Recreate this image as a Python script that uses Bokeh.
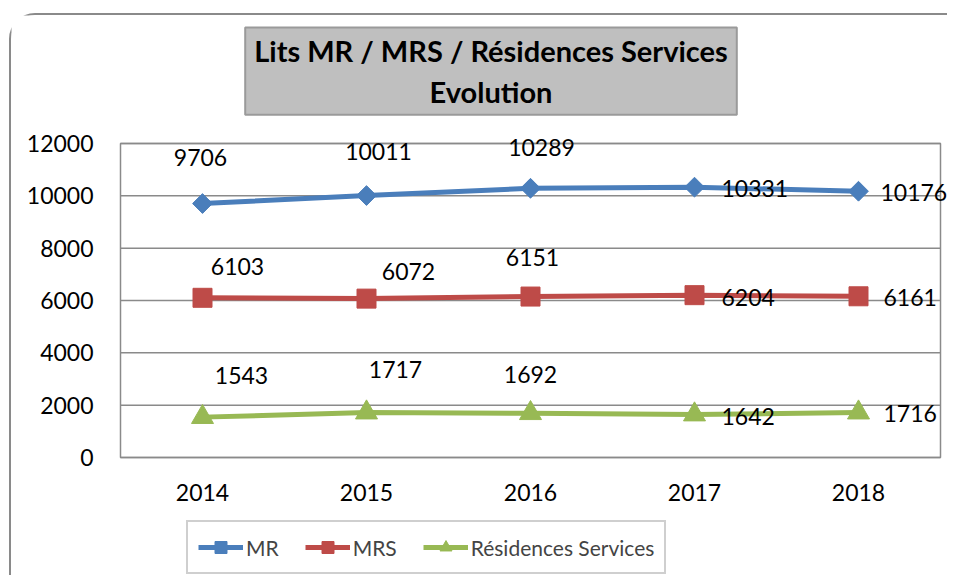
import math
from bokeh.plotting import figure
from bokeh.models import ColumnDataSource, LabelSet, Label, Legend, LegendItem, Range1d
from bokeh.embed import file_html
from bokeh.resources import INLINE
from bokeh.core.properties import value

# ---- data ----
years = [2014, 2015, 2016, 2017, 2018]
mr = [9706, 10011, 10289, 10331, 10176]
mrs = [6103, 6072, 6151, 6204, 6161]
rs = [1543, 1717, 1692, 1642, 1716]
y_ticks = [0, 2000, 4000, 6000, 8000, 10000, 12000]
series_names = ["MR", "MRS", "Résidences Services"]
title_text = "Lits MR / MRS / Résidences Services\nEvolution"

# ---- label placement (screen px offsets; style only) ----
mr_dx = [-2, 12, 11, 27, 22]
mr_dy = [46, 44, 41, -1, -1]
mrs_dx = [35, 42, 2, 27, 25]
mrs_dy = [31, 27, 39, -2, -1]
rs_dx = [39, 29, 0, 27, 25]
rs_dy = [42, 43, 39, -2, -1]

FONT = "Lato"
colors = ["#4A7EBB", "#BE4B48", "#98B954"]
GRID = "#8A8A8A"

# ---- layout (canvas px) ----
W, H = 938, 562
PLOT_L, PLOT_R, PLOT_T, PLOT_B = 109, 929, 128, 442
X0, X1 = years[0] - 0.5, years[-1] + 0.5
Y0, Y1 = y_ticks[0], y_ticks[-1]
xs = (X1 - X0) / (PLOT_R - PLOT_L)
ys = (Y1 - Y0) / (PLOT_B - PLOT_T)

p = figure(width=W, height=H, output_backend="svg", toolbar_location=None,
           x_range=Range1d(X0 - PLOT_L * xs, X1 + (W - PLOT_R) * xs),
           y_range=Range1d(Y0 - (H - PLOT_B) * ys, Y1 + PLOT_T * ys),
           x_axis_location=None, y_axis_location=None,
           min_border=0)
p.styles = {"margin-left": "9px", "margin-top": "13px",
            "border-top": "2px solid #8A8A8A", "border-left": "2px solid #8A8A8A",
            "border-top-left-radius": "26px"}

p.outline_line_color = None
p.grid.visible = False

# plot-area gridlines and border
p.segment(x0=[X0] * len(y_ticks), x1=[X1] * len(y_ticks), y0=y_ticks, y1=y_ticks,
          line_color=GRID, line_width=1.5)
p.quad(left=[X0], right=[X1], bottom=[Y0], top=[Y1], fill_color=None,
       line_color=GRID, line_width=1.5)

# tick labels
ytl = ColumnDataSource(dict(x=[X0] * len(y_ticks), y=y_ticks, t=[str(v) for v in y_ticks]))
p.add_layout(LabelSet(x="x", y="y", text="t", source=ytl, x_offset=-27,
                      text_align="right", text_baseline="middle",
                      text_font=value(FONT), text_font_size="23px", text_color="#000000"))
xtl = ColumnDataSource(dict(x=years, y=[Y0] * len(years), t=[str(v) for v in years]))
p.add_layout(LabelSet(x="x", y="y", text="t", source=xtl, y_offset=-35,
                      text_align="center", text_baseline="middle",
                      text_font=value(FONT), text_font_size="23px", text_color="#000000"))

series = [mr, mrs, rs]
dxs = [mr_dx, mrs_dx, rs_dx]
dys = [mr_dy, mrs_dy, rs_dy]
markers = [("square", 14, math.pi / 4), ("square", 19, 0), ("triangle", 22, 0)]

items = []
for name, vals, col, (mk, sz, ang), dx, dy in zip(series_names, series, colors, markers, dxs, dys):
    src = ColumnDataSource(dict(x=years, y=vals))
    ln = p.line("x", "y", source=src, line_color=col, line_width=5)
    sc = p.scatter("x", "y", source=src, marker=mk, size=sz, angle=ang,
                   fill_color=col, line_color=col)
    items.append(LegendItem(label=name, renderers=[ln, sc]))

    lab = [str(v) for v in vals]
    above = ColumnDataSource(dict(x=years[:3], y=vals[:3], t=lab[:3], dx=dx[:3], dy=dy[:3]))
    right = ColumnDataSource(dict(x=years[3:], y=vals[3:], t=lab[3:], dx=dx[3:], dy=dy[3:]))
    p.add_layout(LabelSet(x="x", y="y", text="t", source=above, x_offset="dx", y_offset="dy",
                          text_align="center", text_baseline="middle",
                          text_font=value(FONT), text_font_size="23px", text_color="#000000"))
    p.add_layout(LabelSet(x="x", y="y", text="t", source=right, x_offset="dx", y_offset="dy",
                          text_align="left", text_baseline="middle",
                          text_font=value(FONT), text_font_size="23px", text_color="#000000"))

# title box
title = Label(x=X0 + (479.5 - PLOT_L) * xs, y=Y0 + (PLOT_B - 55.5) * ys, text=title_text,
              text_align="center", text_baseline="middle",
              text_font=FONT, text_font_size="29px", text_font_style="bold",
              text_color="#000000", text_line_height=1.15,
              background_fill_color="#BFBFBF", border_line_color="#9A9A9A", border_line_width=2,
              padding=(9, 6))
p.add_layout(title)

legend = Legend(items=items, orientation="horizontal", location=(175, H - 559),
                label_text_font=FONT, label_text_font_size="21px", label_standoff=3,
                glyph_width=45, glyph_height=30, spacing=26, padding=10, margin=0,
                border_line_color="#A0A0A0", border_line_width=2,
                background_fill_color="#FFFFFF")
p.add_layout(legend, "center")

open("out.html", "w").write(file_html(p, INLINE))
